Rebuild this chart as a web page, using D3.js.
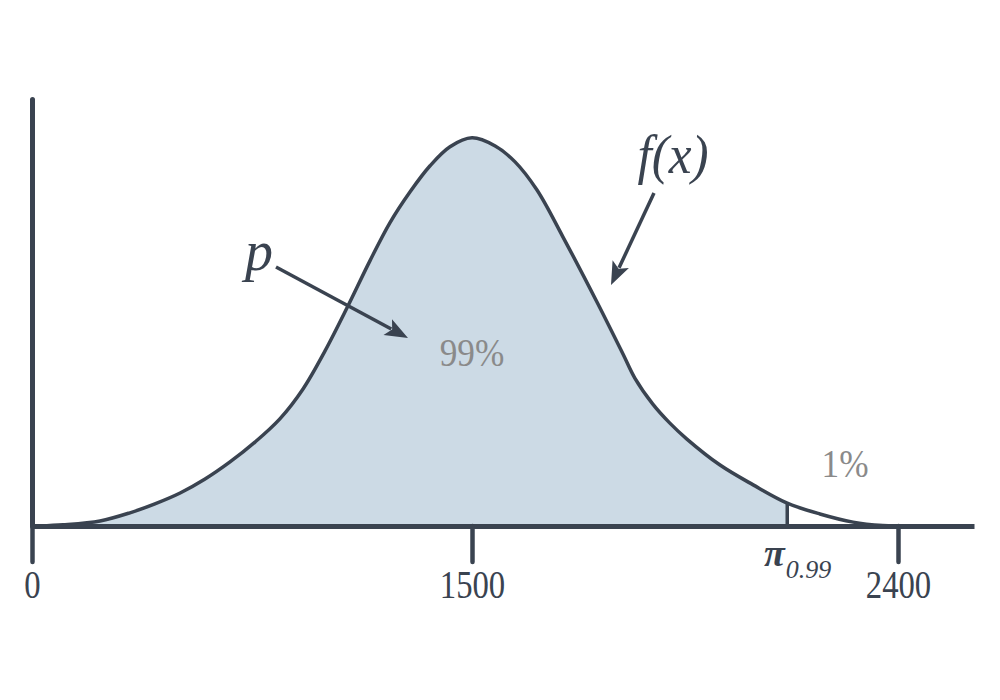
<!DOCTYPE html>
<html>
<head>
<meta charset="utf-8">
<script src="https://cdn.jsdelivr.net/npm/d3@7"></script>
<style>
  html, body { margin: 0; padding: 0; background: #ffffff; }
  svg { display: block; }
</style>
</head>
<body>
<div id="chart"></div>
<script>
// ---- data ----
const xTickValues = [0, 1500, 2400];
const xTickLabels = ["0", "1500", "2400"];
const densityX = [27, 106, 232, 334, 419, 505, 590, 675, 760, 845, 924, 999, 1074, 1152, 1220, 1289, 1357, 1425, 1500,
                  1549, 1591, 1637, 1692, 1764, 1819, 1844, 1882, 1918, 1954, 2024, 2094, 2166, 2235, 2305, 2368, 2393];
const densityY = [0, 0.003, 0.013, 0.034, 0.057, 0.085, 0.121, 0.165, 0.216, 0.276, 0.353, 0.451, 0.562, 0.683, 0.781, 0.861, 0.928, 0.977, 1.0,
                  0.979, 0.938, 0.866, 0.745, 0.577, 0.443, 0.381, 0.314, 0.265, 0.224, 0.157, 0.106, 0.059, 0.031, 0.010, 0.001, 0];
const quantileValue = 2166;       // pi_0.99
const areaLabels = ["99%", "1%"];
const curveLabel = "f(x)";
const probLabel = "p";

// ---- setup ----
const W = 1000, H = 700;
const ink = "#3a4350";
const fillCol = "#ccdae5";
const grey = "#8a8a8a";
const serif = "Liberation Serif";

const svg = d3.select("#chart").append("svg")
  .attr("width", W).attr("height", H);

const x = d3.scaleLinear()
  .domain([0, 1500, 2400, 2563])
  .range([32, 472, 898, 974]);
const y = d3.scaleLinear()
  .domain([0, 1.1])
  .range([526, 99]);

const pts = densityX.map((d, i) => ({ x: d, y: densityY[i] }));
const smooth = d3.curveCatmullRom.alpha(0.5);

// clip for shaded region up to the quantile
svg.append("defs").append("clipPath").attr("id", "leftPart")
  .append("rect")
  .attr("x", 0).attr("y", 0)
  .attr("width", x(quantileValue)).attr("height", H);

const area = d3.area()
  .x(d => x(d.x)).y0(y(0)).y1(d => y(d.y))
  .curve(smooth);
const line = d3.line()
  .x(d => x(d.x)).y(d => y(d.y))
  .curve(smooth);

svg.append("path")
  .datum(pts)
  .attr("d", area)
  .attr("fill", fillCol)
  .attr("clip-path", "url(#leftPart)");

// quantile vertical line
const qIdx = densityX.indexOf(quantileValue);
svg.append("line")
  .attr("x1", x(quantileValue)).attr("x2", x(quantileValue))
  .attr("y1", y(0)).attr("y2", y(densityY[qIdx]))
  .attr("stroke", ink).attr("stroke-width", 3.5);

svg.append("path")
  .datum(pts)
  .attr("d", line)
  .attr("fill", "none")
  .attr("stroke", ink)
  .attr("stroke-width", 3.5);

// ---- axes ----
const xAxis = d3.axisBottom(x)
  .tickValues(xTickValues)
  .tickFormat((d, i) => xTickLabels[i])
  .tickSize(36)
  .tickSizeOuter(0);

const gx = svg.append("g")
  .attr("transform", `translate(0,${y(0)})`)
  .call(xAxis);
gx.select(".domain").attr("stroke", ink).attr("stroke-width", 5);
gx.selectAll(".tick line").attr("stroke", ink).attr("stroke-width", 4.5).attr("stroke-linecap", "round");
gx.selectAll(".tick text")
  .attr("y", 72).attr("dy", 0)
  .attr("transform", "scale(0.84,1)")
  .attr("fill", ink)
  .attr("font-family", serif)
  .attr("font-size", 39);

const yAxis = d3.axisLeft(y).tickValues([]).tickSizeOuter(0);
const gy = svg.append("g")
  .attr("transform", `translate(${x(0)},0)`)
  .call(yAxis);
gy.select(".domain").attr("stroke", ink).attr("stroke-width", 5).attr("stroke-linecap", "round");

// ---- annotations ----
function arrow(x1, y1, x2, y2) {
  const dx = x2 - x1, dy = y2 - y1;
  const len = Math.hypot(dx, dy);
  const ux = dx / len, uy = dy / len;
  const headLen = 23, headHalf = 9, notch = 5;
  svg.append("line")
    .attr("x1", x1).attr("y1", y1)
    .attr("x2", x2 - ux * (headLen - 4)).attr("y2", y2 - uy * (headLen - 4))
    .attr("stroke", ink).attr("stroke-width", 3.5);
  const bx = x2 - ux * headLen, by = y2 - uy * headLen;
  const px = -uy, py = ux;
  const p = [
    [x2, y2],
    [bx + px * headHalf, by + py * headHalf],
    [x2 - ux * (headLen - notch), y2 - uy * (headLen - notch)],
    [bx - px * headHalf, by - py * headHalf]
  ];
  svg.append("path")
    .attr("d", "M" + p.map(q => q.join(",")).join("L") + "Z")
    .attr("fill", ink);
}

arrow(276, 267, 408, 338);
arrow(654, 193, 611, 285);

svg.append("text")
  .attr("x", 259).attr("y", 270)
  .attr("text-anchor", "middle")
  .attr("fill", ink)
  .attr("font-family", serif)
  .attr("font-style", "italic")
  .attr("font-size", 56)
  .text(probLabel);

svg.append("text")
  .attr("transform", "translate(673,173) scale(0.95,1)")
  .attr("text-anchor", "middle")
  .attr("fill", ink)
  .attr("font-family", serif)
  .attr("font-style", "italic")
  .attr("font-size", 54)
  .text(curveLabel);

svg.append("text")
  .attr("transform", `translate(${x(1500)},366) scale(0.86,1)`)
  .attr("text-anchor", "middle")
  .attr("fill", grey)
  .attr("font-family", serif)
  .attr("font-size", 41)
  .text(areaLabels[0]);

svg.append("text")
  .attr("transform", "translate(845,477) scale(0.86,1)")
  .attr("text-anchor", "middle")
  .attr("fill", grey)
  .attr("font-family", serif)
  .attr("font-size", 41)
  .text(areaLabels[1]);

// pi_0.99 label
const piG = svg.append("text")
  .attr("x", 764).attr("y", 566)
  .attr("fill", ink)
  .attr("font-family", serif);
piG.append("tspan")
  .attr("font-style", "italic").attr("font-weight", "bold")
  .attr("font-size", 38)
  .text("π");
piG.append("tspan")
  .attr("dy", 12).attr("dx", 1)
  .attr("font-style", "italic")
  .attr("font-size", 26)
  .text("0.99");
</script>
</body>
</html>
